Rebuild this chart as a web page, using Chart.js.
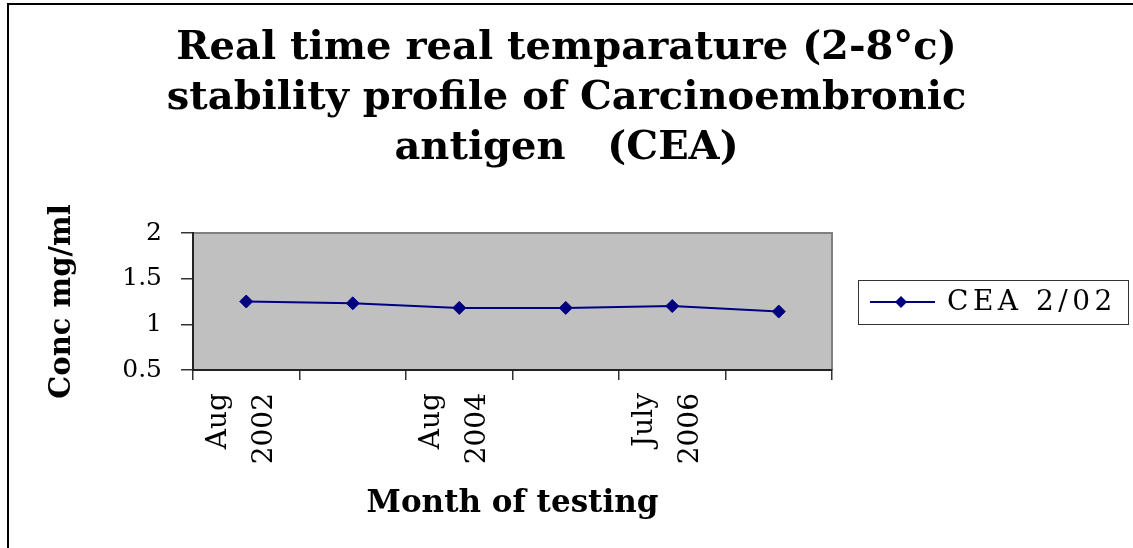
<!DOCTYPE html>
<html><head><meta charset="utf-8">
<script src="https://cdn.jsdelivr.net/npm/chart.js@4.4.1/dist/chart.umd.min.js"></script>
<style>
html,body{margin:0;padding:0;background:#fff;}
#wrap{position:relative;width:1133px;height:548px;overflow:hidden;}
#frame{position:absolute;left:7px;top:3px;right:-5px;bottom:-5px;border-left:2px solid #000;border-top:2px solid #000;pointer-events:none;}
canvas{position:absolute;left:0;top:0;}
</style></head><body>
<div id="wrap"><canvas id="c" width="1133" height="548"></canvas><div id="frame"></div></div>
<script>
const titleLines = ["Real time real temparature (2-8°c)", "stability profile of Carcinoembronic", "antigen   (CEA)"];
const months = [["Aug", "2002"], "", ["Aug", "2004"], "", ["July", "2006"], ""];
const seriesName = "CEA 2/02";
const concValues = [1.25, 1.23, 1.18, 1.18, 1.2, 1.14];
const yTickValues = [0.5, 1, 1.5, 2];
const yAxisTitle = "Conc mg/ml";
const xAxisTitle = "Month of testing";

const SERIF = '"DejaVu Serif", "Liberation Serif", serif';
const NAVY = '#000080';

const plotBg = {
  id: 'plotBg',
  beforeDraw(chart) {
    const {ctx, chartArea: a} = chart;
    ctx.save();
    ctx.fillStyle = '#C0C0C0';
    ctx.fillRect(a.left, a.top, a.right - a.left, a.bottom - a.top);
    ctx.strokeStyle = '#808080';
    ctx.lineWidth = 2;
    ctx.beginPath();
    ctx.moveTo(a.left, a.top);
    ctx.lineTo(a.right, a.top);
    ctx.lineTo(a.right, a.bottom);
    ctx.stroke();
    ctx.restore();
  }
};

const boxLegend = {
  id: 'boxLegend',
  afterDraw(chart) {
    const {ctx, chartArea: a} = chart;
    const ds = chart.data.datasets[0];
    const x0 = a.right + 26, cy = (a.top + a.bottom) / 2 + 0.5;
    const w = 270, h = 44;
    ctx.save();
    ctx.fillStyle = '#fff';
    ctx.fillRect(x0, cy - h / 2, w, h);
    ctx.strokeStyle = '#333';
    ctx.lineWidth = 1;
    ctx.strokeRect(x0 + 0.5, cy - h / 2 + 0.5, w, h);
    ctx.strokeStyle = ds.borderColor;
    ctx.lineWidth = 2;
    ctx.beginPath();
    ctx.moveTo(x0 + 12, cy);
    ctx.lineTo(x0 + 77, cy);
    ctx.stroke();
    ctx.fillStyle = ds.pointBackgroundColor;
    ctx.beginPath();
    ctx.moveTo(x0 + 43, cy - 6); ctx.lineTo(x0 + 49, cy); ctx.lineTo(x0 + 43, cy + 6); ctx.lineTo(x0 + 37, cy);
    ctx.closePath(); ctx.fill();
    ctx.fillStyle = '#000';
    ctx.font = '28px ' + SERIF;
    ctx.letterSpacing = '4.5px';
    ctx.textBaseline = 'middle';
    ctx.textAlign = 'left';
    ctx.fillText(ds.label, x0 + 89, cy + 1);
    ctx.restore();
  }
};

new Chart(document.getElementById('c'), {
  type: 'line',
  data: {
    labels: months,
    datasets: [{
      label: seriesName,
      data: concValues,
      borderColor: NAVY,
      backgroundColor: NAVY,
      pointBackgroundColor: NAVY,
      pointBorderColor: NAVY,
      borderWidth: 2,
      pointStyle: 'rectRot',
      pointRadius: 6.5,
      pointBorderWidth: 1,
      tension: 0,
      fill: false
    }]
  },
  options: {
    responsive: false,
    devicePixelRatio: 1,
    animation: false,
    layout: {padding: {left: 0, right: 0, top: 0, bottom: 0}},
    plugins: {
      legend: {display: false},
      tooltip: {enabled: false},
      title: {
        display: true,
        text: titleLines,
        color: '#000',
        font: {family: SERIF, size: 40, weight: 'bold', lineHeight: 50 / 40},
        padding: {top: 24, bottom: 59}
      }
    },
    scales: {
      x: {
        type: 'category',
        offset: true,
        grid: {offset: true, drawOnChartArea: false, drawTicks: true, tickLength: 10, color: '#333', lineWidth: 1.5},
        border: {display: true, color: '#222', width: 2},
        ticks: {
          autoSkip: false, maxRotation: 90, minRotation: 90,
          color: '#000', padding: 13, labelOffset: -28,
          font: {family: SERIF, size: 28, lineHeight: 46 / 28}
        },
        title: {
          display: true, text: xAxisTitle, color: '#000',
          font: {family: SERIF, size: 31, weight: 'bold', lineHeight: 1.2},
          padding: {top: 0, bottom: 25}
        },
        afterFit(s) { s.height = 178; }
      },
      y: {
        min: 0.5, max: 2,
        grid: {drawOnChartArea: false, drawTicks: true, tickLength: 12, color: '#333', lineWidth: 1.5},
        border: {display: true, color: '#222', width: 2},
        afterBuildTicks(s) { s.ticks = yTickValues.map(v => ({value: v})); },
        ticks: {
          color: '#000', padding: 19,
          font: {family: SERIF, size: 25},
          callback: v => String(v)
        },
        title: {
          display: true, text: yAxisTitle, color: '#000',
          font: {family: SERIF, size: 29, weight: 'bold', lineHeight: 1.2},
          padding: {top: 45, bottom: 0}
        },
        afterFit(s) { s.width = 193; }
      },
      legendSpace: {
        type: 'linear', position: 'right', display: true,
        grid: {display: false, drawTicks: false},
        border: {display: false},
        ticks: {display: false},
        afterFit(s) { s.width = 301; }
      }
    }
  },
  plugins: [plotBg, boxLegend]
});
</script>
</body></html>
